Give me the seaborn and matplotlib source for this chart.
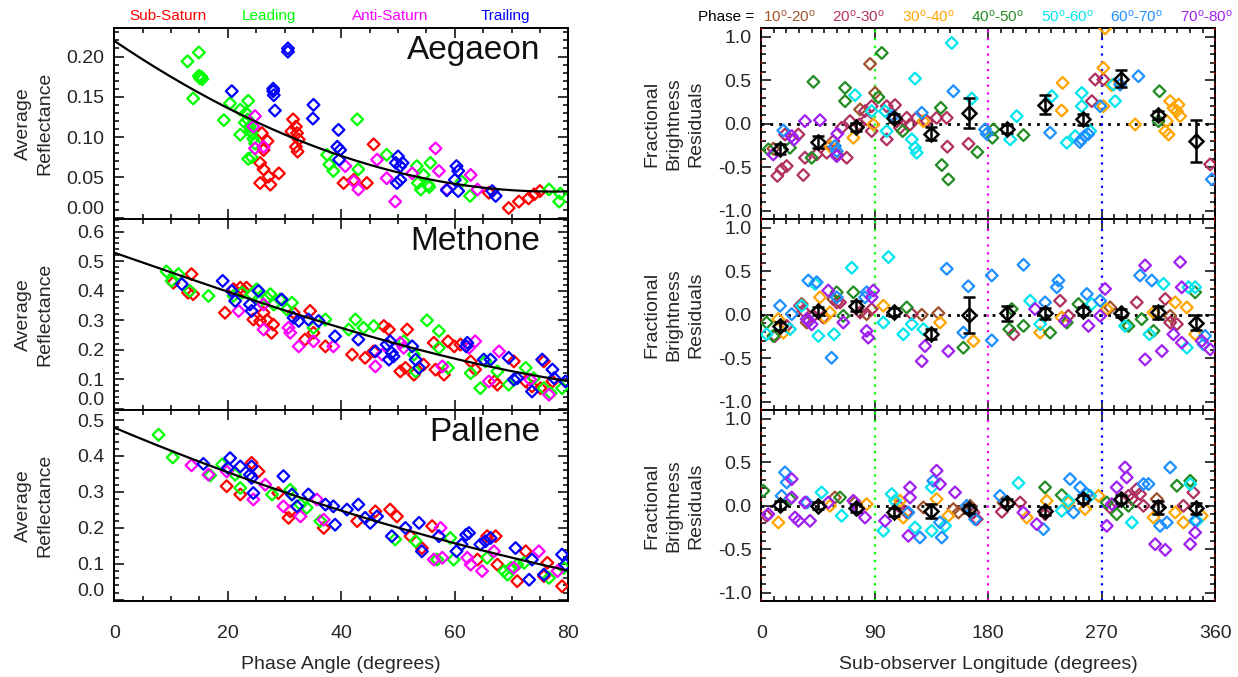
import numpy as np
import pandas as pd
import matplotlib
matplotlib.use("Agg")
import matplotlib.pyplot as plt
from matplotlib.ticker import MultipleLocator, FormatStrFormatter
import seaborn as sns

# ---------------------------------------------------------------- phase curves
REGIONS = ["Sub-Saturn", "Leading", "Anti-Saturn", "Trailing"]
REGION_COLORS = ["#ff0000", "#00ff00", "#ff00ff", "#0000ff"]

# Aegaeon
AEG_SUB_X = [31.5, 32.0, 31.2, 32.2, 32.5, 32.0, 32.3, 26.0, 27.0, 26.3, 25.7, 26.3, 27.2,
             25.7, 27.5, 29.0, 45.7, 40.4, 42.2, 44.5, 66.0, 69.5, 71.3, 73.0, 74.0, 75.0]
AEG_SUB_Y = [0.122, 0.113, 0.107, 0.105, 0.097, 0.088, 0.082, 0.105, 0.095, 0.084, 0.068,
             0.060, 0.051, 0.043, 0.041, 0.055, 0.091, 0.043, 0.047, 0.043, 0.031, 0.012,
             0.020, 0.024, 0.029, 0.033]
AEG_LEAD_X = [12.9, 14.9, 15.1, 15.3, 14.9, 15.5, 13.9, 19.3, 20.4, 22.2, 23.6, 23.2, 23.5,
              23.9, 24.2, 24.5, 24.8, 22.2, 23.6, 24.2, 23.0, 24.0, 42.8, 37.5, 37.9, 38.6,
              43.0, 48.0, 53.3, 54.5, 55.7, 53.5, 54.0, 55.5, 55.3, 61.2, 62.7, 76.6, 78.6, 78.4]
AEG_LEAD_Y = [0.194, 0.205, 0.173, 0.175, 0.176, 0.172, 0.148, 0.121, 0.142, 0.134, 0.145,
              0.130, 0.122, 0.113, 0.105, 0.098, 0.092, 0.103, 0.073, 0.075, 0.118, 0.108,
              0.122, 0.078, 0.066, 0.058, 0.060, 0.078, 0.064, 0.053, 0.068, 0.043, 0.035,
              0.038, 0.041, 0.045, 0.027, 0.035, 0.030, 0.020]
AEG_ANTI_X = [24.8, 24.5, 24.8, 26.3, 40.7, 42.2, 43.0, 46.3, 48.0, 49.5, 52.5, 56.6, 57.2,
              58.6, 62.8, 64.0]
AEG_ANTI_Y = [0.126, 0.113, 0.086, 0.088, 0.064, 0.045, 0.035, 0.072, 0.049, 0.020, 0.055,
              0.086, 0.058, 0.035, 0.053, 0.035]
AEG_TRAIL_X = [30.6, 30.6, 28.0, 28.0, 28.1, 20.7, 28.3, 35.1, 35.0, 39.5, 39.3, 39.8, 39.6,
               50.0, 49.6, 50.4, 50.8, 49.8, 50.4, 60.3, 60.6, 60.6, 60.0, 58.6, 66.6, 67.2]
AEG_TRAIL_Y = [0.210, 0.206, 0.160, 0.157, 0.152, 0.157, 0.133, 0.140, 0.123, 0.109, 0.088,
               0.084, 0.072, 0.076, 0.068, 0.064, 0.068, 0.043, 0.047, 0.064, 0.058, 0.033,
               0.047, 0.034, 0.033, 0.027]

# Methone
MET_SUB_X = [13.6, 10.4, 13.0, 13.9, 19.5, 21.0, 22.2, 23.3, 22.8, 24.5, 25.7, 26.9, 28.0,
             27.7, 26.3, 31.6, 34.5, 33.6, 35.1, 37.2, 41.9, 44.2, 45.7, 47.5, 48.4, 51.6,
             50.4, 51.3, 52.8, 54.5, 56.3, 56.6, 58.1, 58.8, 59.9, 61.0, 62.8, 63.6, 67.0,
             67.5, 70.4, 72.5, 73.6, 75.1, 75.7, 77.2]
MET_SUB_Y = [0.456, 0.427, 0.393, 0.388, 0.325, 0.405, 0.410, 0.410, 0.400, 0.302, 0.297,
             0.300, 0.285, 0.257, 0.325, 0.325, 0.331, 0.234, 0.257, 0.211, 0.183, 0.172,
             0.194, 0.280, 0.268, 0.268, 0.126, 0.138, 0.115, 0.149, 0.223, 0.132, 0.115,
             0.228, 0.211, 0.217, 0.160, 0.132, 0.092, 0.081, 0.160, 0.092, 0.075, 0.069,
             0.160, 0.092]
MET_LEAD_X = [9.2, 10.1, 11.3, 13.3, 16.6, 21.0, 22.5, 24.2, 25.1, 25.7, 26.9, 27.5, 28.1,
              29.2, 31.3, 30.4, 35.1, 37.2, 42.5, 41.3, 43.9, 45.7, 55.1, 57.2, 51.0, 52.8,
              53.1, 58.8, 57.2, 62.8, 64.5, 65.4, 67.5, 69.5, 72.5, 73.9, 76.9, 78.9, 75.7]
MET_LEAD_Y = [0.465, 0.433, 0.456, 0.399, 0.382, 0.382, 0.393, 0.388, 0.405, 0.365, 0.376,
              0.388, 0.353, 0.370, 0.359, 0.336, 0.274, 0.302, 0.302, 0.268, 0.274, 0.280,
              0.299, 0.263, 0.228, 0.183, 0.126, 0.138, 0.206, 0.120, 0.069, 0.160, 0.126,
              0.081, 0.138, 0.103, 0.052, 0.069, 0.069]
MET_ANTI_X = [21.9, 26.3, 26.3, 30.7, 31.0, 32.5, 35.1, 38.6, 46.0, 47.2, 50.4, 51.0, 57.8,
              62.5, 63.6, 66.0, 67.8, 73.3, 76.6]
MET_ANTI_Y = [0.331, 0.353, 0.268, 0.274, 0.257, 0.211, 0.228, 0.211, 0.143, 0.183, 0.223,
              0.206, 0.143, 0.206, 0.228, 0.092, 0.194, 0.098, 0.047]
MET_TRAIL_X = [11.9, 19.1, 20.7, 21.3, 23.9, 24.2, 25.4, 29.5, 31.6, 32.5, 34.2, 36.0, 38.9,
               43.0, 46.0, 48.0, 48.6, 48.9, 48.4, 49.2, 52.5, 53.1, 53.7, 62.2, 62.0, 65.1,
               66.3, 69.5, 71.0, 70.4, 73.6, 75.4, 77.2, 77.5, 79.5]
MET_TRAIL_Y = [0.422, 0.433, 0.399, 0.365, 0.353, 0.331, 0.399, 0.370, 0.308, 0.297, 0.302,
               0.297, 0.245, 0.234, 0.194, 0.217, 0.228, 0.189, 0.166, 0.177, 0.211, 0.166,
               0.138, 0.223, 0.211, 0.166, 0.166, 0.172, 0.103, 0.098, 0.058, 0.166, 0.132,
               0.103, 0.092]

# Pallene
PAL_SUB_X = [19.8, 22.2, 24.2, 25.4, 28.9, 30.7, 31.0, 36.9, 42.8, 46.0, 48.6, 49.8, 52.2,
             54.2, 56.0, 64.0, 65.7, 67.2, 67.5, 71.0, 72.5, 75.7, 76.3, 78.9]
PAL_SUB_Y = [0.316, 0.293, 0.381, 0.357, 0.297, 0.228, 0.246, 0.200, 0.219, 0.246, 0.251,
             0.232, 0.177, 0.144, 0.205, 0.112, 0.177, 0.177, 0.098, 0.052, 0.135, 0.066,
             0.103, 0.038]
PAL_LEAD_X = [7.8, 10.3, 16.9, 19.0, 21.3, 22.2, 27.8, 31.0, 31.3, 32.8, 33.9, 36.3, 49.5,
              53.1, 56.9, 59.2, 59.8, 65.7, 68.7, 69.3, 69.9, 71.0, 72.2, 76.6, 79.2]
PAL_LEAD_Y = [0.459, 0.396, 0.346, 0.376, 0.348, 0.311, 0.293, 0.306, 0.293, 0.265, 0.256,
              0.219, 0.168, 0.163, 0.112, 0.172, 0.112, 0.117, 0.080, 0.070, 0.089, 0.098,
              0.103, 0.061, 0.089]
PAL_ANTI_X = [13.6, 16.6, 19.8, 24.5, 26.6, 29.8, 32.8, 35.7, 36.9, 56.3, 57.5, 57.8, 62.2,
              62.8, 64.8, 66.9, 70.4, 74.8, 78.1]
PAL_ANTI_Y = [0.374, 0.348, 0.357, 0.279, 0.320, 0.260, 0.232, 0.279, 0.223, 0.112, 0.200,
              0.117, 0.117, 0.098, 0.080, 0.135, 0.089, 0.135, 0.080]
PAL_TRAIL_X = [15.7, 20.4, 20.0, 22.2, 23.9, 24.2, 24.5, 24.2, 29.8, 31.3, 32.2, 34.2, 37.2,
               38.6, 38.9, 41.0, 43.0, 44.2, 45.1, 46.3, 48.9, 51.3, 53.7, 54.2, 57.2, 60.3,
               61.2, 62.0, 62.5, 64.5, 65.4, 66.3, 70.7, 73.1, 73.6, 75.7, 78.9, 79.5]
PAL_TRAIL_Y = [0.378, 0.394, 0.367, 0.371, 0.348, 0.339, 0.297, 0.371, 0.344, 0.293, 0.260,
               0.293, 0.265, 0.260, 0.209, 0.251, 0.265, 0.228, 0.214, 0.232, 0.177, 0.200,
               0.214, 0.135, 0.177, 0.135, 0.154, 0.181, 0.186, 0.154, 0.163, 0.172, 0.144,
               0.056, 0.112, 0.070, 0.126, 0.098]

# Model phase curves sampled every 10 degrees
CURVE_PHASE = [0, 10, 20, 30, 40, 50, 60, 70, 80]
AEG_CURVE = [0.220, 0.174, 0.135, 0.104, 0.078, 0.056, 0.041, 0.034, 0.033]
MET_CURVE = [0.528, 0.463, 0.397, 0.333, 0.272, 0.218, 0.170, 0.128, 0.092]
PAL_CURVE = [0.480, 0.413, 0.353, 0.300, 0.251, 0.201, 0.155, 0.117, 0.082]

# ------------------------------------------------------------- longitude residuals
PHASE_BINS = ["10-20", "20-30", "30-40", "40-50", "50-60", "60-70", "70-80"]
BIN_COLORS = ["#a0522d", "#b03060", "#ffa500", "#228b22", "#00e5ee", "#1e90ff", "#a020f0"]

# Aegaeon residuals
AR_X = [
    [86.3, 90.3, 78.4, 9.6],
    [12.8, 20.2, 16.2, 33.4, 18.9, 29.5, 34.7, 44.0, 51.9, 57.2, 59.9, 67.8, 63.8, 70.4, 77.7,
     83.6, 87.6, 99.5, 106.1, 115.4, 118.0, 123.3, 131.3, 139.1, 147.1, 147.6, 164.4, 264.8,
     271.3, 262.2, 356.0, 99.5, 107.5, 110.0, 87.6, 82.3],
    [272.7, 271.3, 239.0, 238.3, 271.3, 278.0, 296.5, 324.3, 326.9, 330.9, 332.2, 321.6, 320.4,
     323.0, 329.6, 54.5, 128.6, 73.1, 89.0],
    [5.7, 41.4, 40.0, 66.5, 66.5, 92.9, 95.6, 112.2, 142.4, 143.2, 148.4, 171.4, 184.1, 183.3,
     208.0, 315.8, 315.0, 22.8],
    [74.4, 87.6, 98.2, 99.5, 122.0, 119.4, 122.0, 123.3, 151.1, 167.0, 202.6, 197.4, 230.4,
     242.3, 254.2, 254.2, 260.8, 249.0, 280.6, 279.3],
    [17.6, 58.5, 59.9, 127.3, 152.4, 177.5, 178.8, 229.1, 254.0, 256.6, 259.3, 252.7, 268.8,
     284.6, 299.1, 357.3, 104.8],
    [9.6, 24.2, 34.7, 46.6, 60.4, 59.9, 26.0],
]
AR_Y = [
    [0.690, 0.356, 0.165, -0.287],
    [-0.600, -0.487, -0.525, -0.590, -0.123, -0.123, -0.391, -0.352, -0.333, -0.199, -0.352,
     -0.391, -0.046, 0.031, -0.008, 0.050, -0.084, -0.180, 0.215, 0.069, -0.008, 0.069, 0.031,
     0.069, 0.069, -0.264, -0.230, 0.510, 0.510, 0.261, -0.467, 0.203, 0.031, -0.046, 0.203,
     0.146],
    [1.100, 0.644, 0.471, 0.153, 0.203, 0.444, -0.008, 0.261, 0.180, 0.220, 0.088, 0.031,
     -0.084, -0.123, 0.146, -0.257, 0.031, -0.161, -0.008],
    [-0.295, 0.483, -0.391, 0.414, 0.261, 0.307, 0.816, -0.084, 0.184, -0.475, -0.640, -0.326,
     -0.065, -0.161, -0.130, 0.375, 0.031, -0.276],
    [0.330, 0.146, 0.146, -0.084, 0.521, -0.180, -0.276, -0.333, 0.931, 0.291, 0.088, -0.180,
     0.318, -0.218, 0.356, 0.203, -0.084, -0.142, 0.261, 0.452],
    [-0.077, -0.257, -0.314, 0.126, 0.375, -0.065, -0.115, -0.103, -0.180, -0.140, -0.120,
     -0.210, 0.203, 0.452, 0.548, -0.640, 0.088],
    [-0.352, -0.142, 0.031, 0.042, -0.115, -0.372, -0.180],
]

# Methone residuals
MR_X = [
    [36.1, 32.1, 57.2, 127.3, 140.5, 83.6, 276.7, 324.3],
    [10.9, 20.2, 30.8, 49.3, 59.9, 78.4, 119.4, 200.0, 237.0, 297.8, 320.4, 329.6, 324.3, 243.6,
     33.4, 41.4, 62.5, 87.6],
    [13.6, 17.6, 46.6, 50.6, 54.5, 96.9, 141.8, 168.3, 221.2, 238.3, 274.0, 311.1, 328.3, 337.5,
     344.1],
    [4.3, 9.6, 65.1, 73.1, 59.9, 115.4, 160.3, 198.7, 196.7, 208.0, 229.1, 251.6, 291.2, 311.1,
     344.1, 301.7, 242.3],
    [4.3, 22.8, 32.1, 42.7, 45.3, 57.7, 71.8, 100.9, 96.9, 112.7, 119.4, 128.6, 213.3, 221.2,
     262.1, 288.5, 307.9, 319.0, 337.5, 338.8, 344.1],
    [14.9, 24.2, 37.4, 44.0, 55.8, 59.9, 82.3, 83.6, 147.1, 164.2, 160.3, 182.8, 182.8, 208.0,
     225.1, 234.4, 235.7, 258.2, 268.8, 300.4, 309.7, 352.0, 350.8],
    [36.1, 38.0, 40.0, 53.2, 65.1, 83.6, 84.9, 88.9, 87.6, 127.3, 129.9, 148.4, 217.2, 240.9,
     259.5, 268.8, 272.7, 304.4, 304.4, 317.7, 326.9, 332.2, 333.5, 333.5, 349.4, 356.0],
]
MR_Y = [
    [-0.089, 0.124, 0.182, 0.000, 0.019, 0.008, 0.085, -0.012],
    [-0.244, -0.128, 0.104, -0.031, 0.143, 0.027, 0.008, -0.224, 0.162, 0.143, 0.182, -0.108,
     -0.089, -0.012, 0.046, -0.012, 0.143, 0.066],
    [-0.050, -0.205, 0.201, -0.031, 0.027, 0.104, -0.089, -0.302, -0.205, -0.031, 0.066, 0.027,
     0.143, 0.085, -0.224],
    [-0.089, -0.244, -0.012, 0.259, 0.259, 0.085, -0.379, 0.066, -0.166, -0.128, -0.205, 0.124,
     -0.128, -0.186, 0.259, -0.050, -0.089],
    [-0.224, -0.166, 0.104, 0.356, -0.244, -0.224, 0.542, 0.665, -0.089, -0.224, -0.108, -0.166,
     0.162, -0.108, 0.124, -0.128, -0.224, 0.356, -0.379, 0.317, 0.317],
    [0.104, 0.008, 0.395, 0.375, -0.495, 0.201, 0.201, 0.259, 0.530, 0.329, -0.205, 0.453,
     -0.294, 0.576, 0.143, 0.317, 0.395, 0.240, 0.162, 0.453, 0.395, -0.244, -0.340],
    [-0.050, -0.070, -0.110, 0.279, -0.089, -0.186, -0.263, 0.279, 0.201, -0.534, -0.360,
     -0.418, 0.066, -0.070, -0.128, -0.012, 0.298, 0.569, -0.514, -0.418, -0.224, 0.607, 0.317,
     -0.321, -0.302, -0.398],
]

# Pallene residuals
PR_X = [
    [58.5, 74.4, 128.6, 152.4, 156.4, 165.6, 313.7, 192.1],
    [4.3, 108.8, 115.4, 168.3, 170.9, 190.8, 205.3, 225.1, 293.9, 300.4, 297.8, 303.1, 334.8,
     342.7, 291.2, 276.7],
    [13.6, 54.5, 83.6, 110.1, 112.7, 139.1, 148.4, 210.6, 226.4, 243.6, 256.8, 267.5, 311.1,
     328.3, 334.8, 349.4],
    [1.7, 22.8, 62.5, 225.1, 238.3, 281.9, 291.2, 329.6, 340.2, 274.0],
    [47.9, 63.8, 96.9, 103.5, 106.1, 122.0, 135.2, 135.2, 145.8, 204.0, 238.3, 243.6, 260.8,
     293.9, 340.2, 345.4],
    [16.2, 18.9, 20.2, 36.1, 116.7, 125.9, 136.5, 143.2, 141.8, 163.0, 169.6, 189.4, 223.8,
     244.9, 247.6, 252.9, 258.2, 303.1, 307.1, 316.3, 321.6, 324.3, 344.1],
    [5.7, 24.2, 24.2, 26.8, 29.5, 34.7, 38.7, 53.2, 73.1, 77.1, 82.3, 98.2, 118.0, 118.0, 116.7,
     139.1, 141.8, 153.7, 207.9, 218.5, 274.0, 281.9, 288.5, 289.8, 312.4, 320.4, 340.2, 344.1,
     278.0],
]
PR_Y = [
    [0.096, 0.038, -0.019, -0.038, -0.077, 0.000, 0.077, 0.038],
    [-0.115, 0.000, -0.077, -0.077, -0.154, -0.069, 0.038, -0.096, 0.077, 0.135, 0.192, 0.000,
     0.000, 0.154, 0.115, -0.019],
    [-0.192, 0.000, 0.019, 0.058, -0.135, 0.077, -0.115, -0.135, 0.058, 0.038, -0.038, 0.115,
     -0.135, -0.077, -0.192, -0.115],
    [0.173, 0.077, 0.096, 0.212, 0.123, -0.096, 0.000, 0.231, 0.288, 0.038],
    [0.154, -0.115, -0.288, 0.135, 0.058, -0.250, -0.288, 0.212, -0.231, 0.262, -0.058, 0.058,
     0.115, -0.192, 0.250, -0.173],
    [0.115, 0.385, 0.269, 0.038, -0.077, -0.365, 0.288, -0.365, -0.192, 0.000, -0.154, 0.115,
     -0.269, 0.308, -0.077, 0.212, 0.135, 0.250, 0.250, -0.231, -0.192, 0.442, -0.173],
    [-0.096, 0.096, 0.308, -0.135, -0.173, 0.038, -0.173, 0.038, 0.058, -0.038, -0.135, -0.173,
     0.212, 0.096, -0.346, 0.404, 0.250, 0.154, -0.077, -0.212, -0.231, 0.212, 0.442, 0.327,
     -0.442, -0.508, -0.442, -0.308, 0.019],
]

# 30-degree longitude bin means with their uncertainties
MEAN_LON = [15, 45, 75, 105, 135, 165, 195, 225, 255, 285, 315, 345]
AEG_MEAN = [-0.295, -0.207, -0.038, 0.069, -0.115, 0.126, -0.065, 0.222, 0.050, 0.521, 0.096, -0.199]
AEG_ERR = [0.057, 0.069, 0.046, 0.046, 0.077, 0.176, 0.046, 0.111, 0.061, 0.100, 0.046, 0.238]
MET_MEAN = [-0.128, 0.039, 0.097, 0.035, -0.224, -0.004, 0.015, 0.015, 0.039, 0.019, 0.027, -0.089]
MET_ERR = [0.046, 0.046, 0.058, 0.046, 0.058, 0.207, 0.083, 0.058, 0.046, 0.046, 0.077, 0.081]
PAL_MEAN = [0.008, 0.000, -0.031, -0.077, -0.058, -0.038, 0.038, -0.058, 0.077, 0.077, -0.019, -0.031]
PAL_ERR = [0.046, 0.040, 0.046, 0.046, 0.077, 0.046, 0.046, 0.046, 0.046, 0.046, 0.077, 0.069]

MOONS = ["Aegaeon", "Methone", "Pallene"]

# ---------------------------------------------------------------- styling
sns.set_style("ticks")
plt.rcParams["font.family"] = ["Liberation Sans", "DejaVu Sans"]
plt.rcParams["mathtext.default"] = "regular"
plt.rcParams["axes.linewidth"] = 1.4

W, H = 1238, 677
fig = plt.figure(figsize=(W / 100, H / 100), dpi=100)

PANEL_H = 191 / H
BOTTOM = 1 - 601.3 / H
LEFT_X0 = 114.3 / W
RIGHT_X0 = 761.2 / W
PANEL_W = 454 / W


def style_axis(ax):
    ax.tick_params(which="both", direction="in", top=True, right=True, labelsize=14,
                   width=1.1, color="black")
    ax.tick_params(which="major", length=7)
    ax.tick_params(which="minor", length=3.5)
    ax.tick_params(axis="x", pad=17)
    ax.tick_params(axis="y", pad=7)
    for s in ax.spines.values():
        s.set_color("black")


def hollow_scatter(ax, df, x, y, hue, order, colors):
    sns.scatterplot(data=df, x=x, y=y, hue=hue, hue_order=order, palette=colors,
                    marker="D", s=36, linewidth=1.6, legend=False, ax=ax, zorder=3)
    coll = ax.collections[-1]
    fc = coll.get_facecolors()
    coll.set_edgecolors(fc)
    coll.set_facecolors("none")


left_sets = [
    (AEG_SUB_X, AEG_SUB_Y, AEG_LEAD_X, AEG_LEAD_Y, AEG_ANTI_X, AEG_ANTI_Y, AEG_TRAIL_X, AEG_TRAIL_Y),
    (MET_SUB_X, MET_SUB_Y, MET_LEAD_X, MET_LEAD_Y, MET_ANTI_X, MET_ANTI_Y, MET_TRAIL_X, MET_TRAIL_Y),
    (PAL_SUB_X, PAL_SUB_Y, PAL_LEAD_X, PAL_LEAD_Y, PAL_ANTI_X, PAL_ANTI_Y, PAL_TRAIL_X, PAL_TRAIL_Y),
]
curves = [AEG_CURVE, MET_CURVE, PAL_CURVE]
left_ylims = [(-0.002, 0.235), (-0.006, 0.642), (-0.004, 0.527)]
left_major = [0.05, 0.1, 0.1]
left_minor = [0.01, 0.02, 0.02]
left_fmt = ["%.2f", "%.1f", "%.1f"]

right_sets = [(AR_X, AR_Y, AEG_MEAN, AEG_ERR), (MR_X, MR_Y, MET_MEAN, MET_ERR),
              (PR_X, PR_Y, PAL_MEAN, PAL_ERR)]

left_axes = []
for i in range(3):
    y0 = BOTTOM + (2 - i) * PANEL_H

    # ---- reflectance versus phase angle
    ax = fig.add_axes([LEFT_X0, y0, PANEL_W, PANEL_H])
    left_axes.append(ax)
    vals = left_sets[i]
    frames = []
    for k, reg in enumerate(REGIONS):
        frames.append(pd.DataFrame({"phase": vals[2 * k], "refl": vals[2 * k + 1], "region": reg}))
    df = pd.concat(frames, ignore_index=True)
    hollow_scatter(ax, df, "phase", "refl", "region", REGIONS, REGION_COLORS)

    coef = np.polyfit(CURVE_PHASE, curves[i], 3)
    xs = np.linspace(0, 80, 300)
    ax.plot(xs, np.polyval(coef, xs), color="black", lw=1.6, zorder=4)

    ax.set_xlim(0, 80)
    ax.set_ylim(*left_ylims[i])
    ax.xaxis.set_major_locator(MultipleLocator(20))
    ax.xaxis.set_minor_locator(MultipleLocator(5))
    ax.yaxis.set_major_locator(MultipleLocator(left_major[i]))
    ax.yaxis.set_minor_locator(MultipleLocator(left_minor[i]))
    ax.yaxis.set_major_formatter(FormatStrFormatter(left_fmt[i]))
    style_axis(ax)
    ax.set_ylabel("Average\nReflectance", fontsize=14, linespacing=1.38)
    ax.yaxis.set_label_coords(-0.134, 0.5)
    ax.text(0.938, 0.84, MOONS[i], transform=ax.transAxes, ha="right", va="baseline",
            fontsize=24, color="#111111")
    if i < 2:
        ax.set_xlabel("")
        ax.tick_params(axis="x", labelbottom=False)
    else:
        ax.set_xlabel("Phase Angle (degrees)", fontsize=14, labelpad=10)

    # ---- brightness residuals versus sub-observer longitude
    ax = fig.add_axes([RIGHT_X0, y0, PANEL_W, PANEL_H])
    rx, ry, mean_y, mean_err = right_sets[i]
    frames = []
    for k, b in enumerate(PHASE_BINS):
        frames.append(pd.DataFrame({"lon": rx[k], "resid": ry[k], "phase_bin": b}))
    df = pd.concat(frames, ignore_index=True)

    ax.axhline(0, color="black", ls=(0, (1, 2.2)), lw=2, zorder=2)
    for lon, col in [(90, "#00ff00"), (180, "#ff00ff"), (270, "#0000ff")]:
        ax.axvline(lon, color=col, ls=(0, (1, 2.5)), lw=1.6, zorder=2)
    for lon in (0, 360):
        ax.axvline(lon, color="#ff0000", ls=(0, (1, 4)), lw=1.6, zorder=3.5)

    hollow_scatter(ax, df, "lon", "resid", "phase_bin", PHASE_BINS, BIN_COLORS)
    ax.errorbar(MEAN_LON, mean_y, yerr=mean_err, fmt="D", mfc="none", mec="black", mew=1.8,
                ms=7, color="black", ecolor="black", elinewidth=1.8, capsize=4.5,
                capthick=1.8, zorder=5)

    ax.set_xlim(0, 360)
    ax.set_ylim(-1.1, 1.1)
    ax.xaxis.set_major_locator(MultipleLocator(90))
    ax.xaxis.set_minor_locator(MultipleLocator(10))
    ax.yaxis.set_major_locator(MultipleLocator(0.5))
    ax.yaxis.set_minor_locator(MultipleLocator(0.1))
    ax.yaxis.set_major_formatter(FormatStrFormatter("%.1f"))
    style_axis(ax)
    ax.set_ylabel("Fractional\nBrightness\nResiduals", fontsize=14, linespacing=1.38)
    ax.yaxis.set_label_coords(-0.126, 0.5)
    if i < 2:
        ax.set_xlabel("")
        ax.tick_params(axis="x", labelbottom=False)
    else:
        ax.set_xlabel("Sub-observer Longitude (degrees)", fontsize=14, labelpad=10)

# ---------------------------------------------------------------- key texts
for name, col, xc in zip(REGIONS, REGION_COLORS, [168, 269, 390, 505]):
    fig.text(xc / W, 1 - 16 / H, name, color=col, fontsize=11, ha="center", va="center")

fig.text(726 / W, 1 - 17 / H, "Phase =", color="black", fontsize=11, ha="center", va="center")
for b, col, xc in zip(PHASE_BINS, BIN_COLORS, [790, 859, 929, 998, 1068, 1137, 1207]):
    lo, hi = b.split("-")
    label = lo + "$^{o}$-" + hi + "$^{o}$"
    fig.text(xc / W, 1 - 17 / H, label, color=col, fontsize=11, ha="center", va="center")

# lift the zero label of each reflectance panel so it sits inside its own panel
fig.canvas.draw()
for ax in left_axes:
    lo = ax.get_ylim()[0]
    for tick in ax.yaxis.get_major_ticks():
        if abs(tick.get_loc()) < 1e-9 and tick.get_loc() >= lo:
            tick.label1.set_verticalalignment("bottom")

fig.savefig("out.png", dpi=100)
